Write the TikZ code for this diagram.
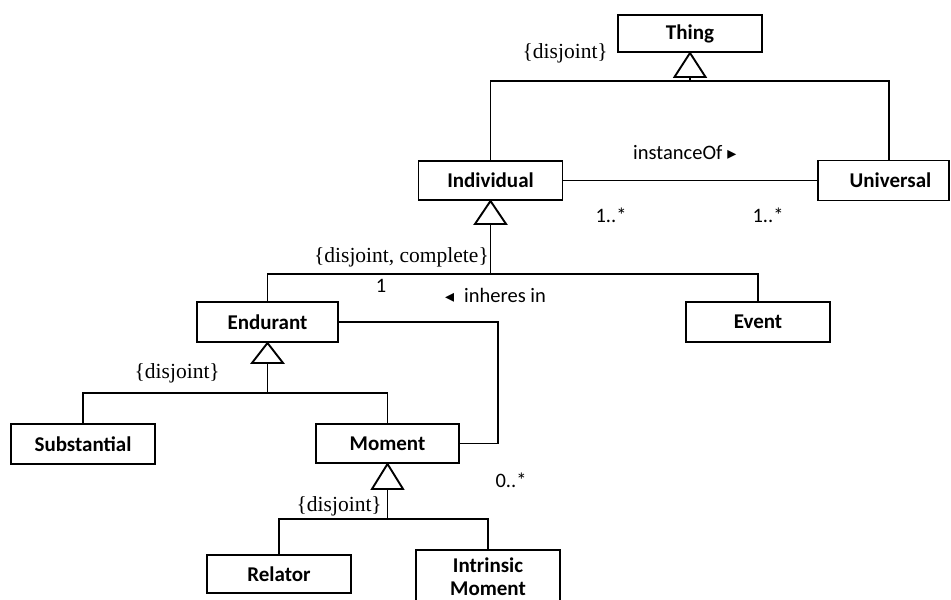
\documentclass[tikz,border=0pt]{standalone}
\usepackage{fontspec}
\setmainfont{Carlito}
\newfontfamily\serifl{Liberation Serif}
\newfontfamily\symf{DejaVu Sans}
\usetikzlibrary{calc}
\begin{document}
\begin{tikzpicture}[x=1pt,y=-1pt,
  cls/.style={draw, line width=1.9pt, minimum width=144pt, minimum height=39pt,
    inner sep=0pt, align=center, font=\fontsize{21}{23}\selectfont\bfseries},
  conn/.style={line width=1.4pt},
  gen/.style={line width=1.9pt, fill=white, line join=miter},
  constraint/.style={inner sep=0pt, font=\serifl\fontsize{21.5}{24}\selectfont},
  mult/.style={inner sep=0pt, font=\fontsize{20.5}{24}\selectfont}]
\clip (0,0) rectangle (951,600);

% classes
\node[cls, minimum height=37pt] (thing) at (690,33.5) {Thing};
\node[cls] (ind) at (490.5,180.5) {Individual};
\node[cls, minimum width=131pt, minimum height=40pt] (univ) at (883.5,180.5) {\hspace*{14pt}Universal};
\node[cls, minimum width=141pt, minimum height=40pt] (end) at (267.5,322) {Endurant};
\node[cls, minimum height=40pt] (event) at (758,322) {Event};
\node[cls, minimum height=40pt] (sub) at (83,444) {Substantial};
\node[cls, minimum width=143pt] (mom) at (387.5,443.5) {Moment};
\node[cls, minimum height=38pt] (rel) at (279,574) {Relator};
\node[cls, minimum height=54pt] (intr) at (488,577) {Intrinsic\\Moment};

% Thing generalization
\coordinate (univtop) at ($(univ.north)+(5.5,0)$);
\draw[conn] ($(thing.south)+(0,24)$) -- ++(0,4) coordinate (tbus);
\draw[conn] (ind.north) |- (tbus) -| (univtop);
\draw[gen] (thing.south) -- ++(-15.5,24) -- ++(31,0) -- cycle;

% instanceOf association
\draw[conn] (ind.east) -- (univ.west);

% Individual generalization
\draw[conn] ($(ind.south)+(0,23)$) -- ++(0,50) coordinate (ibus);
\draw[conn] (end.north) |- (ibus) -| (event.north);
\draw[gen] (ind.south) -- ++(-15.5,23) -- ++(31,0) -- cycle;

% inheres in association
\draw[conn] (end.east) -- ++(159,0) |- (mom.east);

% Endurant generalization
\draw[conn] ($(end.south)+(0,20)$) -- ++(0,30) coordinate (ebus);
\draw[conn] (sub.north) |- (ebus) -| (mom.north);
\draw[gen] (end.south) -- ++(-15.5,20) -- ++(31,0) -- cycle;

% Moment generalization
\draw[conn] ($(mom.south)+(0,25)$) -- ++(0,30) coordinate (mbus);
\draw[conn] (rel.north) |- (mbus) -| (intr.north);
\draw[gen] (mom.south) -- ++(-15.5,25) -- ++(31,0) -- cycle;

% constraints, names and multiplicities
\node[constraint, anchor=east] (c1) at (608,53) {\{disjoint\}};
\node[mult, anchor=west] (lblinst) at (633,153) {instanceOf\hspace{5pt}{\symf\fontsize{18}{18}\selectfont ▸}};
\node[mult] (m1) at (611,215) {1..*};
\node[mult] (m2) at (768,215) {1..*};
\node[constraint, anchor=east] (c2) at (489,257) {\{disjoint, complete\}};
\node[mult] (m3) at (381,286) {1};
\node[mult, anchor=west] (lblinh) at (445,295) {{\symf\fontsize{18}{18}\selectfont ◂}\hspace{10pt}inheres in};
\node[constraint, anchor=east] (c3) at (220,373) {\{disjoint\}};
\node[constraint, anchor=east] (c4) at (382,506) {\{disjoint\}};
\node[mult] (m4) at (511,480) {0..*};
\end{tikzpicture}
\end{document}
